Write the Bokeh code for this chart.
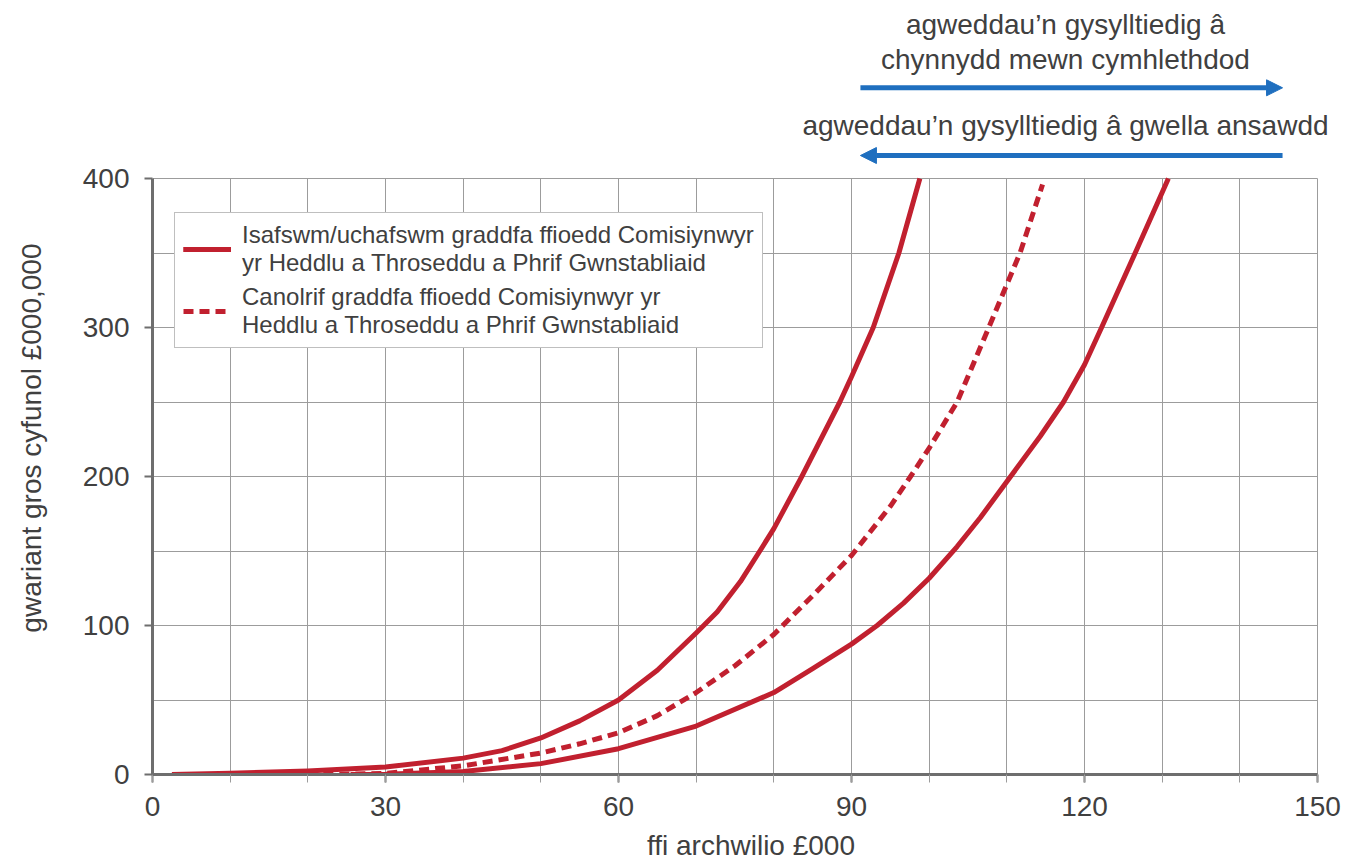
from bokeh.plotting import figure
from bokeh.models import (Range1d, SingleIntervalTicker, Legend, LegendItem,
                          Arrow, NormalHead, Label)
from bokeh.embed import file_html
from bokeh.resources import INLINE

# ---- data ----
fee_upper = [2.5, 10, 20, 30, 40, 45, 50, 55, 60, 65, 70, 72.7, 75.7, 78.2, 80,
             83.6, 88.5, 90, 92.8, 96.1, 98.8]
spend_upper = [0, 0.9, 2.4, 5, 11, 16, 24.5, 36, 50, 70, 95, 109, 129.5, 150, 165,
               200, 250, 267, 300, 350, 400]

fee_mid = [22, 30, 40, 50, 55, 60, 65, 70, 75, 80, 85, 90, 95, 97.6, 100, 103.6,
           107.6, 111.7, 114.6]
spend_mid = [0, 0.7, 5.8, 14.4, 20.6, 28, 39.5, 55, 73, 94, 120, 147, 180, 200, 219,
             250, 299, 350, 396]

fee_lower = [25.5, 30, 40, 50, 60, 70, 80, 85, 90, 93.3, 96.7, 100, 103.6, 106.6,
             110.2, 114.3, 117.3, 120, 122.2, 126.7, 130.8]
spend_lower = [0, 0.2, 2, 7.3, 17.3, 32.5, 55, 71, 87.5, 100, 115, 131.7, 153, 172.5,
               198, 227, 250, 275, 300, 352, 400]

label_solid = "Isafswm/uchafswm graddfa ffioedd Comisiynwyr\nyr Heddlu a Throseddu a Phrif Gwnstabliaid"
label_dashed = "Canolrif graddfa ffioedd Comisiynwyr yr\nHeddlu a Throseddu a Phrif Gwnstabliaid"

x_title = "ffi archwilio £000"
y_title = "gwariant gros cyfunol £000,000"

note_complex = ["agweddau’n gysylltiedig â", "chynnydd mewn cymhlethdod"]
note_quality = "agweddau’n gysylltiedig â gwella ansawdd"
arrow_from = 91.15
arrow_to = 145.5
note_x = 117.55

FONT = "Liberation Sans"
RED = "#C1202F"
BLUE = "#1F6FBF"
TEXT = "#404040"
AXIS = "#6E6E6E"
GRID = "#9C9C9C"

# ---- geometry (pixels) ----
W = 1352
H = 864
LEFT = 152          # frame left edge
X_MAX = 150
Y_MAX = 400
AXIS_W = 1165       # pixels spanned by 0..150
AXIS_H = 596        # pixels spanned by 0..400
BOTTOM = 90
FRAME_H = H - BOTTOM
RIGHT = 3
FRAME_W = W - LEFT - RIGHT
ppu_x = AXIS_W / X_MAX
ppu_y = AXIS_H / Y_MAX


def ypix(img_y):
    """data value for a pixel row measured from the top of the frame"""
    return (FRAME_H - img_y) / ppu_y


p = figure(width=W, height=H,
           x_range=Range1d(0, FRAME_W / ppu_x),
           y_range=Range1d(0, FRAME_H / ppu_y),
           toolbar_location=None, output_backend="svg",
           min_border_left=LEFT, min_border_right=RIGHT, min_border_top=0,
           min_border_bottom=BOTTOM, outline_line_color=None)

p.xaxis.ticker = SingleIntervalTicker(interval=30, num_minor_ticks=3)
p.yaxis.ticker = SingleIntervalTicker(interval=100, num_minor_ticks=0)
p.xaxis.bounds = (0, X_MAX)
p.yaxis.bounds = (0, Y_MAX)

p.xgrid.ticker = SingleIntervalTicker(interval=10)
p.ygrid.ticker = SingleIntervalTicker(interval=50)
p.xgrid.bounds = (0, X_MAX)
p.ygrid.bounds = (0, Y_MAX)
p.xgrid.cross_bounds = (0, Y_MAX)
p.ygrid.cross_bounds = (0, X_MAX)
p.grid.grid_line_color = GRID
p.grid.grid_line_width = 1

for ax in (p.xaxis[0], p.yaxis[0]):
    ax.axis_line_color = AXIS
    ax.axis_line_width = 3
    ax.major_tick_line_color = AXIS
    ax.major_tick_line_width = 2
    ax.major_tick_out = 8
    ax.major_tick_in = 0
    ax.minor_tick_line_color = GRID
    ax.minor_tick_out = 8
    ax.minor_tick_in = 0
    ax.major_label_text_font = FONT
    ax.major_label_text_font_size = "28px"
    ax.major_label_text_color = TEXT
    ax.axis_label_text_font = FONT
    ax.axis_label_text_font_size = "28px"
    ax.axis_label_text_font_style = "normal"
    ax.axis_label_text_color = TEXT

p.xaxis.axis_label = x_title
# the y title is centred on the whole (taller) frame; trailing no-break spaces
# move the visible words down to sit beside the 0..400 axis as in the reference
p.yaxis.axis_label = y_title + "\u00a0" * 13
p.xaxis.major_label_standoff = 14
p.xaxis.axis_label_standoff = 11
p.yaxis.major_label_standoff = 15
p.yaxis.axis_label_standoff = 33

# ---- curves ----
r_up = p.line(fee_upper, spend_upper, line_color=RED, line_width=5, line_join="round")
r_lo = p.line(fee_lower, spend_lower, line_color=RED, line_width=5, line_join="round")
r_mid = p.line(fee_mid, spend_mid, line_color=RED, line_width=5, line_dash="10 6",
               line_join="round")

# ---- annotations above the chart ----
for txt, row in [(note_complex[0], 24), (note_complex[1], 59), (note_quality, 125)]:
    p.add_layout(Label(x=note_x, y=ypix(row), text=txt, text_align="center",
                       text_baseline="middle", text_font=FONT,
                       text_font_size="28px", text_color=TEXT))

p.add_layout(Arrow(end=NormalHead(size=16, fill_color=BLUE, line_color=BLUE, line_width=1),
                   x_start=arrow_from, y_start=ypix(87.3), x_end=arrow_to, y_end=ypix(87.3),
                   line_color=BLUE, line_width=5))
p.add_layout(Arrow(end=NormalHead(size=16, fill_color=BLUE, line_color=BLUE, line_width=1),
                   x_start=arrow_to, y_start=ypix(155), x_end=arrow_from, y_end=ypix(155),
                   line_color=BLUE, line_width=5))

# ---- legend ----
legend = Legend(items=[LegendItem(label=label_solid, renderers=[r_up, r_lo]),
                       LegendItem(label=label_dashed, renderers=[r_mid])],
                location=(22, 426))
legend.label_text_font = FONT
legend.label_text_font_size = "24px"
legend.label_text_color = TEXT
legend.label_standoff = 11
legend.glyph_width = 48
legend.glyph_height = 20
legend.spacing = 6
legend.padding = 8
legend.margin = 0
legend.border_line_color = "#808080"
legend.border_line_width = 1
legend.background_fill_alpha = 1
p.add_layout(legend, "center")

open("out.html", "w").write(file_html(p, INLINE))
